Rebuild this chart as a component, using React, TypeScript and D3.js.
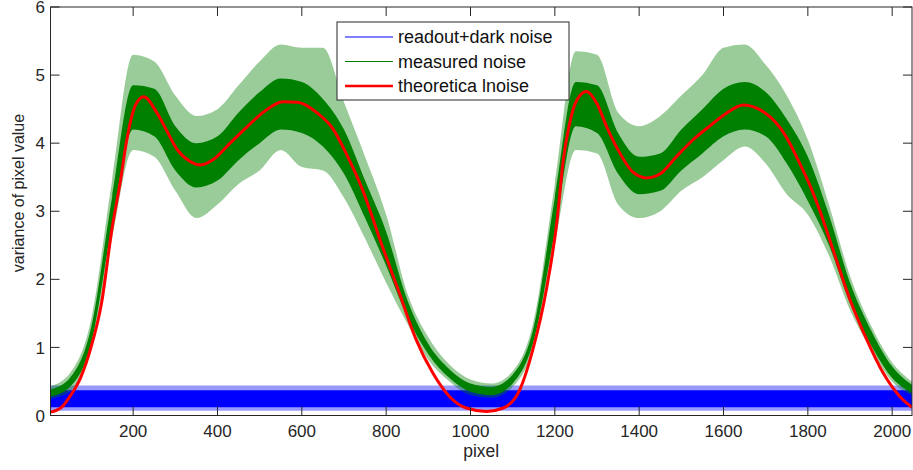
import React from "react";
import * as d3 from "d3";

// theoretical noise (red curve)
const redX = [4, 30, 50, 75, 100, 125, 150, 170, 185, 205, 225, 255, 280, 305, 335, 360, 390, 430, 470, 510, 555, 590, 635, 675, 705, 745, 790, 830, 870, 910, 950, 990, 1038, 1078, 1117, 1148, 1180, 1205, 1220, 1235, 1252, 1275, 1300, 1323, 1350, 1386, 1417, 1450, 1488, 1528, 1567, 1607, 1647, 1680, 1710, 1735, 1757, 1781, 1805, 1830, 1860, 1900, 1940, 1978, 2018, 2047];
const redY = [0.05, 0.12, 0.28, 0.55, 1.0, 1.65, 2.75, 3.45, 4.05, 4.55, 4.68, 4.46, 4.18, 3.9, 3.73, 3.68, 3.76, 4.0, 4.24, 4.46, 4.61, 4.6, 4.45, 4.2, 3.85, 3.3, 2.5, 1.82, 1.13, 0.63, 0.28, 0.11, 0.06, 0.11, 0.38, 0.97, 1.85, 2.85, 3.75, 4.29, 4.63, 4.76, 4.58, 4.24, 3.9, 3.57, 3.49, 3.55, 3.8, 4.05, 4.25, 4.44, 4.56, 4.51, 4.39, 4.22, 4.0, 3.7, 3.38, 2.98, 2.43, 1.7, 1.11, 0.63, 0.28, 0.12];

// measured noise (green band): spike extremes and dense core
const greenX = [4, 50, 100, 150, 200, 250, 300, 350, 400, 450, 500, 550, 600, 650, 700, 750, 800, 850, 900, 950, 1000, 1050, 1100, 1150, 1200, 1250, 1300, 1350, 1400, 1450, 1500, 1550, 1600, 1650, 1700, 1750, 1800, 1850, 1900, 1950, 2000, 2047];
const greenSpikeLo = [0.25, 0.35, 0.95, 2.6, 3.9, 3.8, 3.3, 2.9, 3.1, 3.4, 3.6, 3.9, 3.65, 3.6, 3.2, 2.6, 1.95, 1.35, 0.82, 0.5, 0.3, 0.26, 0.42, 1.0, 2.5, 3.9, 3.85, 3.1, 2.9, 3.0, 3.3, 3.5, 3.75, 3.95, 3.7, 3.25, 2.95, 2.35, 1.55, 0.97, 0.5, 0.3];
const greenCoreLo = [0.28, 0.42, 1.05, 2.8, 4.2, 4.1, 3.6, 3.35, 3.45, 3.75, 4.0, 4.2, 4.15, 3.95, 3.55, 2.9, 2.2, 1.45, 0.9, 0.55, 0.35, 0.3, 0.47, 1.1, 2.7, 4.25, 4.15, 3.55, 3.25, 3.3, 3.6, 3.85, 4.1, 4.2, 4.1, 3.7, 3.15, 2.5, 1.65, 1.03, 0.55, 0.33];
const greenCoreHi = [0.38, 0.55, 1.28, 3.2, 4.85, 4.8, 4.25, 4.0, 4.1, 4.45, 4.75, 4.95, 4.9, 4.65, 4.2, 3.45, 2.7, 1.7, 1.05, 0.68, 0.47, 0.42, 0.6, 1.3, 3.2, 4.9, 4.85, 4.15, 3.8, 3.85, 4.2, 4.5, 4.8, 4.9, 4.75, 4.35, 3.8, 2.95, 1.95, 1.25, 0.72, 0.45];
const greenSpikeHi = [0.43, 0.62, 1.4, 3.45, 5.3, 5.2, 4.7, 4.4, 4.5, 4.85, 5.2, 5.45, 5.4, 5.4, 4.6, 3.8, 2.95, 1.8, 1.15, 0.75, 0.53, 0.47, 0.65, 1.4, 3.4, 5.35, 5.3, 4.45, 4.25, 4.4, 4.7, 5.0, 5.4, 5.45, 5.15, 4.7, 4.05, 3.1, 2.05, 1.32, 0.78, 0.5];

// readout + dark noise (blue band)
const blueX = [4, 500, 1000, 1500, 2047];
const blueSpikeLo = [0.07, 0.07, 0.07, 0.07, 0.07];
const blueCoreLo = [0.12, 0.12, 0.12, 0.12, 0.12];
const blueCoreHi = [0.37, 0.37, 0.37, 0.37, 0.37];
const blueSpikeHi = [0.44, 0.44, 0.44, 0.44, 0.44];

const xTicks = [200, 400, 600, 800, 1000, 1200, 1400, 1600, 1800, 2000];
const yTicks = [0, 1, 2, 3, 4, 5, 6];
const legendLabels = ["readout+dark noise", "measured noise", "theoretica lnoise"];

const W = 913, H = 470;
const L = 50.5, R = 912, T = 7, B = 415.5;
const FONT = "Arial, 'Liberation Sans', Helvetica, sans-serif";
const AX = "#262626";

export default function App() {
  const x = d3.scaleLinear().domain([4, 2047]).range([L, R]);
  const y = d3.scaleLinear().domain([0, 6]).range([B, T]);

  const band = (xs: number[], lo: number[], hi: number[]) =>
    d3.area<number>()
      .x((i) => x(xs[i]))
      .y0((i) => y(lo[i]))
      .y1((i) => y(hi[i]))
      .curve(d3.curveMonotoneX)(xs.map((_, i) => i)) || "";

  const redPath = d3.line<number>()
    .x((i) => x(redX[i]))
    .y((i) => y(redY[i]))
    .curve(d3.curveMonotoneX)(redX.map((_, i) => i)) || "";

  const colors = ["#0000ff", "#008000", "#ff0000"];
  const widths = [1, 1, 2.5];
  const tick = 9;

  return (
    <svg width={W} height={H} style={{ position: "absolute", left: 0, top: 0, background: "#fff" }} fontFamily={FONT}>
      <rect x={0} y={0} width={W} height={H} fill="#fff" />
      <defs>
        <clipPath id="plot">
          <rect x={L} y={T} width={R - L} height={B - T} />
        </clipPath>
      </defs>
      <g clipPath="url(#plot)">
        <path d={band(blueX, blueSpikeLo, blueSpikeHi)} fill="#0000ff" opacity={0.4} />
        <path d={band(blueX, blueCoreLo, blueCoreHi)} fill="#0000ff" />
        <path d={band(greenX, greenSpikeLo, greenSpikeHi)} fill="#008000" opacity={0.4} />
        <path d={band(greenX, greenCoreLo, greenCoreHi)} fill="#008000" />
        <path d={redPath} fill="none" stroke="#ff0000" strokeWidth={3} strokeLinejoin="round" />
      </g>
      <rect x={L} y={T} width={R - L} height={B - T} fill="none" stroke={AX} strokeWidth={1} />
      {xTicks.map((t) => (
        <g key={"x" + t}>
          <line x1={x(t)} x2={x(t)} y1={B} y2={B - tick} stroke={AX} />
          <line x1={x(t)} x2={x(t)} y1={T} y2={T + tick} stroke={AX} />
          <text x={x(t)} y={437} textAnchor="middle" fontSize={17} fill={AX}>{t}</text>
        </g>
      ))}
      {yTicks.map((t) => (
        <g key={"y" + t}>
          <line x1={L} x2={L + tick} y1={y(t)} y2={y(t)} stroke={AX} />
          <line x1={R} x2={R - tick} y1={y(t)} y2={y(t)} stroke={AX} />
          <text x={45} y={y(t)} dy="0.36em" textAnchor="end" fontSize={17} fill={AX}>{t}</text>
        </g>
      ))}
      <text x={(L + R) / 2} y={457} textAnchor="middle" fontSize={17.5} fill={AX}>pixel</text>
      <text transform={`translate(24,193) rotate(-90)`} textAnchor="middle" fontSize={16} fill={AX}>variance of pixel value</text>
      <rect x={337} y={22} width={232} height={78} fill="#fff" stroke={AX} />
      {legendLabels.map((lab, i) => (
        <g key={lab}>
          <line x1={345} x2={393} y1={37 + i * 24.5} y2={37 + i * 24.5} stroke={colors[i]} strokeWidth={widths[i]} />
          <text x={398} y={37 + i * 24.5} dy="0.35em" fontSize={18} fill="#111">{lab}</text>
        </g>
      ))}
    </svg>
  );
}
